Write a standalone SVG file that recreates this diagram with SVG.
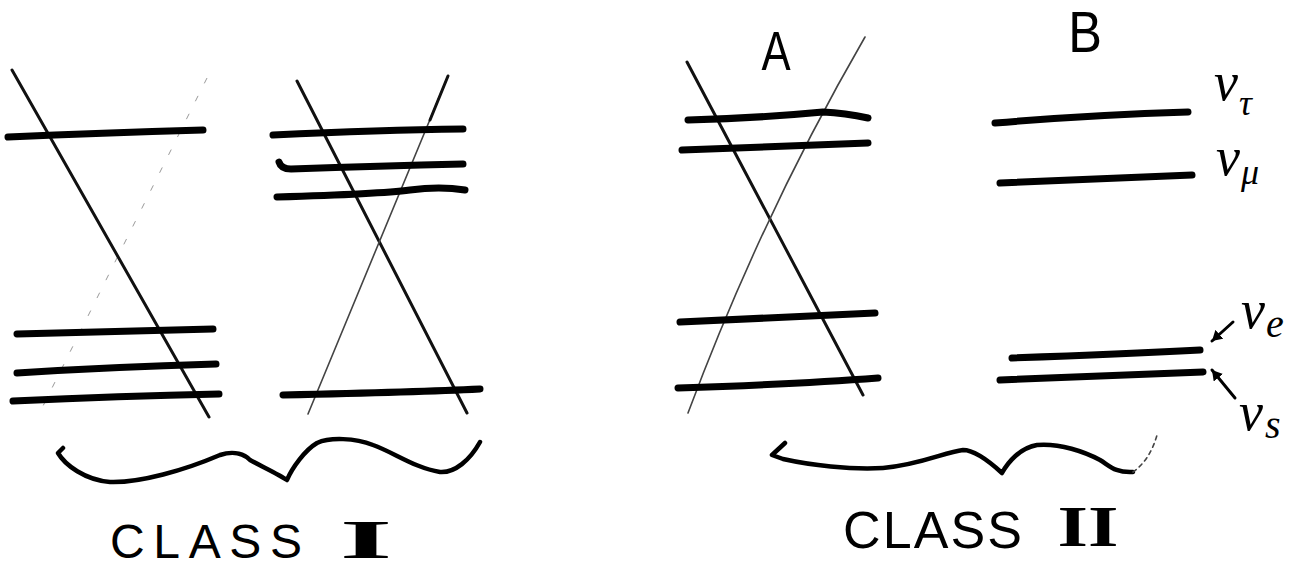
<svg xmlns="http://www.w3.org/2000/svg" width="1304" height="571" viewBox="0 0 1304 571">
<defs>
<style>
.lvl{fill:none;stroke:#000;stroke-width:7;stroke-linecap:round;stroke-linejoin:round}
.dia{fill:none;stroke:#111;stroke-width:3;stroke-linecap:round}
.dia2{fill:none;stroke:#444;stroke-width:1.6;stroke-linecap:round}
.faint{fill:none;stroke:#999;stroke-width:1;stroke-dasharray:6 14}
.brace{fill:none;stroke:#000;stroke-width:4.5;stroke-linecap:round;stroke-linejoin:round}
.arr{fill:none;stroke:#000;stroke-width:3;stroke-linecap:round}
.cap{font-family:"Liberation Sans",Arial,sans-serif;fill:#000}
.rom{font-family:"Liberation Serif","Times New Roman",serif;font-weight:bold;fill:#000}
.gr{font-family:"Liberation Serif","Times New Roman",serif;font-style:italic;fill:#000}
</style>
<marker id="ah" markerWidth="12" markerHeight="12" refX="10" refY="6" orient="auto" markerUnits="userSpaceOnUse">
<path d="M0,0 L10,6 L0,12 z" fill="#000"/>
</marker>
</defs>
<rect width="1304" height="571" fill="#fff"/>

<g id="class1-left">
<path class="faint" d="M207,78 L40,412"/>
<path class="dia" d="M12,70 L209,417"/>
<path class="lvl" d="M8,137 Q100,133 203,130"/>
<path class="lvl" d="M17,334 L213,329"/>
<path class="lvl" d="M17,373 Q110,367 216,364"/>
<path class="lvl" d="M13,401 Q120,396 219,394"/>
</g>

<g id="class1-right">
<path class="dia" d="M297,81 L467,413"/>
<path class="dia2" d="M448,76 L308,414"/>
<path class="dia" d="M448,76 L430,120"/>
<path class="lvl" d="M273,135 Q380,130 463,129"/>
<path class="lvl" d="M279,162 Q281,169 291,169 Q380,166 463,164"/>
<path class="lvl" d="M277,197 Q380,194 410,190 Q440,186 465,190"/>
<path class="lvl" d="M283,395 Q420,392 480,389"/>
</g>

<g id="class2-A">
<path class="dia" d="M687,62 L863,395"/>
<path class="dia2" d="M865,37 Q762,215 688,413"/>
<path class="lvl" d="M688,120 Q760,118 823,112 Q845,113 868,118"/>
<path class="lvl" d="M682,150 Q780,146 868,143"/>
<path class="lvl" d="M680,322 L875,313"/>
<path class="lvl" d="M678,388 Q800,384 878,378"/>
<text class="cap" x="0" y="0" font-size="56" text-anchor="middle" transform="translate(776,70) scale(0.78,1)">A</text>
</g>

<g id="class2-B">
<path class="lvl" d="M995,123 Q1090,115 1188,112"/>
<path class="lvl" d="M1000,183 Q1100,179 1192,175"/>
<path class="lvl" d="M1012,358 Q1120,354 1200,350"/>
<path class="lvl" d="M1000,380 L1203,372"/>
<text class="cap" x="0" y="0" font-size="58" text-anchor="middle" transform="translate(1085,52) scale(0.87,1)">B</text>
</g>

<g id="labels">
<text class="gr" x="1214" y="100" font-size="54">ν</text>
<text class="gr" x="1239" y="115" font-size="36">τ</text>
<text class="gr" x="1216" y="175" font-size="54">ν</text>
<text class="gr" x="1241" y="184" font-size="36">μ</text>
<text class="gr" x="1241" y="328" font-size="54">ν</text>
<text class="gr" x="1266" y="337" font-size="40">e</text>
<text class="gr" x="1239" y="430" font-size="54">ν</text>
<text class="gr" x="1265" y="438" font-size="40">s</text>
</g>

<g id="connectors">
<path class="arr" d="M1233,322 L1212,341" marker-end="url(#ah)"/>
<path class="arr" d="M1235,398 L1212,370" marker-end="url(#ah)"/>
</g>

<g id="brace1">
<path class="brace" d="M63,448 L58,453 C65,465 85,480 110,482 C140,483 185,470 220,455 C235,450 245,455 250,460 C265,468 280,475 287,480 C292,468 305,450 317,443 C330,437 355,438 373,445 C395,453 415,468 440,472 C455,473 470,460 480,442"/>
<text class="cap" x="110" y="558" font-size="48" textLength="192" lengthAdjust="spacing">CLASS</text>
<text class="rom" x="0" y="0" font-size="54" text-anchor="middle" transform="translate(366,558) scale(2.5,1)">I</text>
</g>

<g id="brace2">
<path class="brace" d="M785,443 L772,455 L783,459 C810,465 850,470 883,468 C920,465 945,452 963,450 C975,450 990,462 1002,473 C1008,462 1020,448 1037,445 C1060,443 1085,452 1100,460 C1110,466 1115,473 1133,472"/>
<path class="dia2" d="M1133,472 Q1150,460 1157,435" stroke-dasharray="4 4"/>
<text class="cap" x="843" y="548" font-size="52" textLength="179" lengthAdjust="spacing">CLASS</text>
<text class="rom" x="0" y="0" font-size="56" text-anchor="middle" transform="translate(1088,546) scale(1.4,1)">II</text>
</g>
</svg>
